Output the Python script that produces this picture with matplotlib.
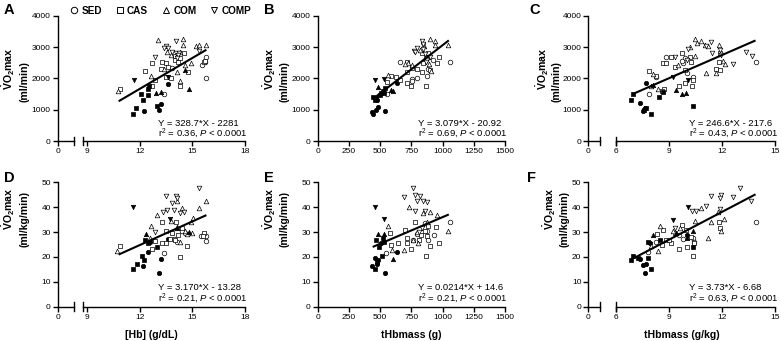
import matplotlib
matplotlib.use('Agg')
import matplotlib.pyplot as plt
from matplotlib.lines import Line2D

plt.rcParams['font.family'] = ['Liberation Sans', 'DejaVu Sans']
plt.rcParams['mathtext.fontset'] = 'custom'
plt.rcParams['mathtext.rm'] = 'Liberation Sans'
plt.rcParams['mathtext.it'] = 'Liberation Sans:italic'
plt.rcParams['mathtext.bf'] = 'Liberation Sans:bold'

# ---------------- DATA ----------------
groups = ['SED', 'CAS', 'COM', 'COMP']

# Panel A: [Hb] (g/dL) vs VO2max (ml/min)
a_sed_x = [15.8, 15.7, 15.55, 15.8, 13.4, 14.15, 13.85, 12.25, 13.1, 13.2, 13.6]
a_sed_y = [2670, 2520, 2430, 2000, 1490, 2610, 2330, 960, 990, 1180, 1820]
a_sed_f = [0, 0, 0, 0, 0, 0, 0, 1, 1, 1, 1]
a_cas_x = [10.9, 12.3, 12.7, 13.25, 13.5, 13.2, 13.6, 14.0, 14.0, 14.55, 14.3, 14.75, 14.3, 12.7, 13.5, 15.65, 15.7, 13.8, 14.2, 12.9,
           11.62, 11.8, 12.2, 12.1, 12.5, 12.5, 13.0, 12.55]
a_cas_y = [1660, 2250, 2480, 2510, 2500, 2300, 2350, 2600, 2710, 2800, 2650, 2210, 1760, 1760, 2050, 2510, 2560, 2000, 2520, 1950,
           860, 1040, 1310, 1500, 1650, 1470, 1120, 1740]
a_cas_f = [0] * 20 + [1] * 8
a_com_x = [13.05, 14.45, 14.45, 13.55, 15.2, 15.4, 15.75, 14.9, 14.6, 14.1, 12.65, 14.3, 10.75, 13.8, 14.3, 13.4,
           12.95, 13.2, 14.8, 14.6]
a_com_y = [3220, 3250, 3080, 2840, 3030, 3060, 3060, 2500, 2420, 2190, 2080, 1920, 1600, 2750, 2850, 2300,
           1520, 1550, 1660, 2270]
a_com_f = [0] * 16 + [1] * 4
a_comp_x = [13.5, 14.05, 13.4, 12.9, 13.85, 14.05, 14.25, 15.4, 13.6, 14.2, 14.1, 11.65, 13.6]
a_comp_y = [3040, 3190, 2960, 2690, 2830, 2800, 2800, 2880, 2960, 2750, 2650, 1950, 2030]
a_comp_f = [0] * 11 + [1] * 2

# Panel B: tHbmass (g) vs VO2max (ml/min)
b_sed_x = [1060, 926, 753, 793, 755, 873, 552, 659, 880, 432, 446, 465, 486, 478, 540, 633]
b_sed_y = [2530, 2585, 1980, 2000, 1915, 2075, 1500, 2530, 2300, 940, 850, 1000, 1100, 1300, 960, 1860]
b_sed_f = [0] * 9 + [1] * 7
b_cas_x = [587, 659, 713, 747, 867, 953, 972, 712, 712, 846, 865, 833, 880, 793, 753, 712, 833, 900, 627, 552,
           446, 470, 505, 520, 540, 500, 455, 530]
b_cas_y = [2075, 1950, 1840, 1755, 1755, 2500, 2690, 2480, 2530, 2480, 2670, 2800, 2800, 2290, 2320, 2210, 2210, 2265, 2050, 1890,
           1420, 1370, 1540, 1600, 1700, 1480, 1300, 1530]
b_cas_f = [0] * 20 + [1] * 8
b_com_x = [900, 940, 940, 1046, 854, 726, 753, 820, 907, 566, 873, 890, 700, 486, 600, 590]
b_com_y = [3245, 3200, 3064, 3064, 3030, 2500, 2425, 2900, 2245, 2100, 2690, 2450, 2450, 1713, 1606, 1620]
b_com_f = [0] * 13 + [1] * 3
b_comp_x = [833, 846, 774, 779, 793, 841, 859, 900, 873, 865, 846, 459, 531]
b_comp_y = [3200, 3064, 2883, 2850, 2957, 2925, 2777, 2690, 2585, 2530, 3100, 1947, 1980]
b_comp_f = [0] * 11 + [1] * 2

# Panel C: tHbmass (g/kg) vs VO2max (ml/min)
c_sed_x = [7.9, 8.3, 8.87, 9.8, 9.94, 10.37, 13.9, 10.0, 9.75, 7.37, 7.7, 7.65, 7.55]
c_sed_y = [1500, 2053, 2670, 2478, 2638, 2032, 2532, 2160, 2550, 1200, 1860, 1050, 960]
c_sed_f = [0] * 9 + [1] * 4
c_cas_x = [7.9, 8.27, 8.74, 8.68, 8.87, 9.15, 9.77, 10.18, 9.9, 10.28, 9.9, 9.6, 10.33, 10.37, 11.83, 11.68, 11.87, 11.87, 9.34, 8.6,
           6.86, 6.99, 7.6, 7.7, 7.97, 8.46, 8.68, 10.37]
c_cas_y = [2245, 2075, 1650, 2500, 2500, 2670, 2800, 2690, 2266, 2532, 1862, 1755, 1755, 1947, 2532, 2287, 2266, 2800, 2372, 1600,
           1310, 1500, 1000, 1040, 850, 1420, 1570, 1120]
c_cas_f = [0] * 20 + [1] * 8
c_com_x = [10.47, 10.84, 10.6, 11.03, 11.22, 11.83, 11.68, 11.12, 12.06, 12.2, 10.5, 9.53, 8.4, 8.12, 8.0, 10.18,
           8.08, 9.43, 9.77, 9.96]
c_com_y = [3245, 3202, 3138, 3064, 3032, 3064, 2160, 2180, 2564, 2457, 2713, 2425, 1650, 2138, 1755, 3000,
           1790, 1630, 1500, 1543]
c_com_f = [0] * 16 + [1] * 4
c_comp_x = [9.34, 10.1, 11.4, 11.46, 11.9, 11.96, 12.62, 13.37, 13.7, 11.08, 10.0, 9.25, 10.1]
c_comp_y = [2670, 2925, 3170, 2820, 2904, 2745, 2457, 2851, 2713, 3032, 2600, 2030, 1950]
c_comp_f = [0] * 11 + [1] * 2

# Panel D: [Hb] (g/dL) vs VO2max (ml/kg/min)
d_sed_x = [13.4, 13.95, 14.6, 15.5, 15.77, 15.77, 14.4, 14.1, 13.6, 12.5, 12.2, 13.2, 13.1, 12.6]
d_sed_y = [21.7, 27.2, 29.5, 28.6, 28.6, 26.4, 30.6, 26.0, 27.1, 22.1, 16.5, 19.3, 13.7, 26.0]
d_sed_f = [0] * 8 + [1] * 6
d_cas_x = [10.9, 12.72, 13.25, 13.25, 13.5, 13.5, 13.85, 14.07, 14.4, 14.7, 14.3, 15.64, 14.0, 12.9, 13.7, 14.2, 15.6,
           11.64, 11.83, 12.15, 12.25, 12.5, 13.0, 12.3]
d_cas_y = [24.4, 23.2, 33.9, 25.7, 25.5, 30.4, 29.5, 34.2, 31.5, 24.4, 20.1, 29.8, 26.8, 26.5, 27.3, 28.8, 28.5,
           15.0, 17.0, 20.4, 18.8, 25.7, 24.1, 27.0]
d_cas_f = [0] * 17 + [1] * 7
d_com_x = [10.68, 13.0, 12.62, 15.77, 15.36, 15.04, 14.4, 14.13, 14.3, 14.7, 14.98, 14.57, 14.13, 13.8, 12.6, 14.9,
           12.34, 14.8, 14.1]
d_com_y = [22.5, 36.9, 32.6, 42.5, 39.5, 35.5, 39.5, 42.6, 26.1, 29.1, 29.5, 30.6, 32.2, 34.5, 27.5, 34.0,
           29.1, 30.0, 31.8]
d_com_f = [0] * 16 + [1] * 3
d_comp_x = [13.5, 14.04, 15.4, 14.13, 13.98, 13.57, 13.3, 13.85, 12.9, 14.3, 14.5, 11.64, 13.75]
d_comp_y = [44.6, 44.5, 47.6, 43.6, 38.9, 38.9, 38.2, 41.8, 30.2, 37.5, 38.0, 40.2, 35.1]
d_comp_f = [0] * 11 + [1] * 2

# Panel E: tHbmass (g) vs VO2max (ml/kg/min)
e_sed_x = [1060, 931, 886, 793, 766, 547, 873, 860, 432, 459, 486, 472, 539, 633, 504]
e_sed_y = [34.2, 28.8, 26.8, 29.2, 26.8, 21.7, 30.5, 33.5, 16.5, 19.4, 18.8, 17.2, 13.7, 22.1, 25.5]
e_sed_f = [0] * 8 + [1] * 7
e_cas_x = [579, 587, 646, 712, 747, 779, 865, 972, 948, 881, 900, 873, 814, 713, 700, 830, 860,
           459, 467, 494, 512, 478, 531, 520]
e_cas_y = [29.5, 24.8, 25.5, 25.7, 23.1, 33.9, 20.4, 25.5, 31.9, 32.4, 24.4, 28.4, 26.8, 27.7, 31.0, 29.0, 30.5,
           15.0, 26.8, 24.1, 20.4, 18.1, 26.1, 27.5]
e_cas_f = [0] * 17 + [1] * 7
e_com_x = [566, 592, 734, 694, 793, 846, 953, 1046, 900, 873, 806, 760, 486, 531, 606]
e_com_y = [32.4, 22.8, 39.9, 22.8, 30.2, 37.5, 36.9, 30.4, 38.2, 34.2, 25.5, 27.0, 29.1, 29.1, 19.0]
e_com_f = [0] * 12 + [1] * 3
e_comp_x = [766, 691, 779, 819, 846, 873, 793, 859, 779, 833, 814, 459, 531]
e_comp_y = [47.6, 44.0, 44.9, 44.5, 42.5, 42.2, 42.6, 38.6, 38.6, 31.5, 30.2, 40.2, 35.1]
e_comp_f = [0] * 11 + [1] * 2

# Panel F: tHbmass (g/kg) vs VO2max (ml/kg/min)
f_sed_x = [7.84, 8.3, 9.8, 10.37, 13.9, 9.6, 10.4, 7.65, 7.56, 7.74, 7.93, 7.37, 10.0]
f_sed_y = [22.1, 26.1, 27.1, 27.5, 34.2, 28.8, 26.0, 13.7, 16.8, 17.2, 25.7, 19.0, 28.8]
f_sed_f = [0] * 7 + [1] * 6
f_cas_x = [8.31, 8.68, 8.87, 9.15, 9.34, 9.77, 9.58, 10.0, 10.37, 9.96, 10.28, 11.83, 11.87, 10.4, 8.6, 9.0,
           6.86, 6.99, 7.97, 7.84, 7.84, 8.5, 10.37, 7.28]
f_cas_y = [29.1, 30.8, 26.8, 25.7, 29.5, 32.8, 23.1, 24.1, 20.4, 30.8, 28.2, 34.2, 31.8, 25.7, 25.0, 27.0,
           18.8, 20.4, 15.0, 19.4, 26.1, 26.8, 23.9, 19.4]
f_cas_f = [0] * 16 + [1] * 8
f_com_x = [8.5, 8.4, 10.47, 10.84, 11.22, 11.37, 11.78, 12.1, 11.93, 9.25, 9.62, 8.0,
           8.08, 9.43, 10.0, 10.37]
f_com_y = [32.4, 22.5, 34.5, 39.5, 27.5, 34.2, 38.2, 35.1, 30.4, 30.4, 31.5, 24.5,
           28.8, 29.5, 27.5, 30.6]
f_com_f = [0] * 12 + [1] * 4
f_comp_x = [11.4, 11.96, 11.87, 12.62, 13.0, 13.65, 11.08, 10.33, 10.56, 11.87, 9.34, 9.25, 10.1]
f_comp_y = [44.5, 44.9, 43.6, 44.2, 47.6, 42.6, 40.5, 38.6, 38.6, 39.1, 31.5, 34.9, 40.2]
f_comp_f = [0] * 11 + [1] * 2

# Regression lines (slope, intercept, x-range)
reg_slope = [328.7, 3.079, 246.6, 3.170, 0.0214, 3.73]
reg_intercept = [-2281, -20.92, -217.6, -13.28, 14.6, -6.68]
reg_xrange = [(10.8, 15.8), (440, 1050), (7.0, 13.9), (10.8, 15.8), (440, 1050), (7.0, 13.9)]
eq_line1 = ['Y = 328.7*X - 2281', 'Y = 3.079*X - 20.92', 'Y = 246.6*X - 217.6',
            'Y = 3.170*X - 13.28', 'Y = 0.0214*X + 14.6', 'Y = 3.73*X - 6.68']
eq_r2 = ['0.36', '0.69', '0.43', '0.21', '0.21', '0.63']
panel_letters = ['A', 'B', 'C', 'D', 'E', 'F']
x_labels = ['', '', '', '[Hb] (g/dL)', 'tHbmass (g)', 'tHbmass (g/kg)']
y_units = ['(ml/min)', '(ml/min)', '(ml/min)', '(ml/kg/min)', '(ml/kg/min)', '(ml/kg/min)']

# ---------------- FIGURE ----------------
W, H = 781, 341
fig = plt.figure(figsize=(W / 100, H / 100), dpi=100)


def fx(px):
    return px / W


def fy(py):
    return 1 - py / H


LW = 1.0
TICK_FS = 6.0


def style(ax, left=True):
    for s in ['top', 'right']:
        ax.spines[s].set_visible(False)
    ax.spines['left'].set_visible(left)
    ax.spines['left'].set_linewidth(LW)
    ax.spines['bottom'].set_linewidth(LW)
    ax.tick_params(axis='both', direction='out', length=3.5, width=LW, labelsize=TICK_FS, pad=1.5)
    ax.patch.set_alpha(0)
    if not left:
        ax.tick_params(axis='y', left=False, labelleft=False)


markers = ['o', 's', '^', 'v']


def draw_points(ax, xs_list, ys_list, fs_list):
    for m, xs, ys, fs in zip(markers, xs_list, ys_list, fs_list):
        xo = [x for x, f in zip(xs, fs) if not f]
        yo = [y for y, f in zip(ys, fs) if not f]
        xf = [x for x, f in zip(xs, fs) if f]
        yf = [y for y, f in zip(ys, fs) if f]
        ax.scatter(xo, yo, s=11, marker=m, facecolors='white', edgecolors='black', linewidths=0.5, zorder=2,
                   clip_on=False)
        ax.scatter(xf, yf, s=10, marker=m, facecolors='black', edgecolors='black', linewidths=0.5, zorder=2,
                   clip_on=False)


def break_mark(ax, xpos):
    ax.plot([xpos, xpos], [-0.035, 0.035], transform=ax.transAxes, color='black', lw=LW, clip_on=False)


def make_panel(i, left, right, top, bot, ymax, ystep, data, broken):
    yticks = list(range(0, ymax + 1, ystep))
    if broken is None:
        ax = fig.add_axes([fx(left), fy(bot), (right - left) / W, (bot - top) / H])
        style(ax)
        ax.set_xlim(0, 1500)
        ax.set_xticks([0, 250, 500, 750, 1000, 1250, 1500])
        ax.set_ylim(0, ymax)
        ax.set_yticks(yticks)
        main = ax
    else:
        brk_end, main_start, v_lo, px_lo, v_hi, ticks = broken
        scale = (right - px_lo) / (v_hi - v_lo)
        ax0 = fig.add_axes([fx(left), fy(bot), (brk_end - left) / W, (bot - top) / H])
        style(ax0)
        ax0.set_xlim(0, (brk_end - left) / scale)
        ax0.set_xticks([0])
        ax0.set_ylim(0, ymax)
        ax0.set_yticks(yticks)
        break_mark(ax0, 1.0)
        main = fig.add_axes([fx(main_start), fy(bot), (right - main_start) / W, (bot - top) / H])
        style(main, left=False)
        main.set_xlim(v_hi - (right - main_start) / scale, v_hi)
        main.set_xticks(ticks)
        main.set_ylim(0, ymax)
        break_mark(main, 0.0)
    draw_points(main, *data)
    x0, x1 = reg_xrange[i]
    main.plot([x0, x1], [reg_slope[i] * x0 + reg_intercept[i], reg_slope[i] * x1 + reg_intercept[i]],
              color='black', lw=1.5, zorder=3, solid_capstyle='butt')
    return main


row_top = [(15.7, 141.0), (182.3, 306.7)]
col_geom = [
    (57.7, 245.0, (74.0, 83.0, 12, 139.7, 18, [9, 12, 15, 18])),
    (317.7, 505.0, None),
    (588.3, 775.0, (600.0, 615.7, 6, 615.7, 15, [6, 9, 12, 15])),
]
ylab1_x = [8.5, 270, 543, 8.5, 270, 550]
ylab2_x = [25, 285, 557, 25, 285, 565]
ylab_y = [(69, 82), (209, 219)]
eq_x = [158, 418, 689]
eq_y = [(123, 133.5), (288, 298.5)]
letter_pos = [(9, 10), (269, 10), (535, 10), (9, 178), (269, 178), (531, 178)]

all_data = [
    ([a_sed_x, a_cas_x, a_com_x, a_comp_x], [a_sed_y, a_cas_y, a_com_y, a_comp_y], [a_sed_f, a_cas_f, a_com_f, a_comp_f]),
    ([b_sed_x, b_cas_x, b_com_x, b_comp_x], [b_sed_y, b_cas_y, b_com_y, b_comp_y], [b_sed_f, b_cas_f, b_com_f, b_comp_f]),
    ([c_sed_x, c_cas_x, c_com_x, c_comp_x], [c_sed_y, c_cas_y, c_com_y, c_comp_y], [c_sed_f, c_cas_f, c_com_f, c_comp_f]),
    ([d_sed_x, d_cas_x, d_com_x, d_comp_x], [d_sed_y, d_cas_y, d_com_y, d_comp_y], [d_sed_f, d_cas_f, d_com_f, d_comp_f]),
    ([e_sed_x, e_cas_x, e_com_x, e_comp_x], [e_sed_y, e_cas_y, e_com_y, e_comp_y], [e_sed_f, e_cas_f, e_com_f, e_comp_f]),
    ([f_sed_x, f_cas_x, f_com_x, f_comp_x], [f_sed_y, f_cas_y, f_com_y, f_comp_y], [f_sed_f, f_cas_f, f_com_f, f_comp_f]),
]

for i in range(6):
    r, c = divmod(i, 3)
    top, bot = row_top[r]
    left, right, broken = col_geom[c]
    ymax, ystep = (4000, 1000) if r == 0 else (50, 10)
    make_panel(i, left, right, top, bot, ymax, ystep, all_data[i], broken)
    # y labels
    fig.text(fx(ylab1_x[i]), fy(ylab_y[r][0]), r'$\mathbf{\dot{V}O_2max}$', rotation=90,
             ha='center', va='center', fontsize=7.6, fontweight='bold')
    fig.text(fx(ylab2_x[i]), fy(ylab_y[r][1]), y_units[i], rotation=90,
             ha='center', va='center', fontsize=7.6, fontweight='bold')
    # equation
    fig.text(fx(eq_x[c]), fy(eq_y[r][0]), eq_line1[i], ha='left', va='center', fontsize=6.8)
    fig.text(fx(eq_x[c]), fy(eq_y[r][1]), r'r$^2$ = ' + eq_r2[i] + r', $\mathit{P}$ < 0.0001',
             ha='left', va='center', fontsize=6.8)
    # panel letter
    fig.text(fx(letter_pos[i][0]), fy(letter_pos[i][1]), panel_letters[i], ha='center', va='center',
             fontsize=10.5, fontweight='bold')
    # x label
    if x_labels[i]:
        fig.text(fx((left + right) / 2), fy(335), x_labels[i], ha='center', va='center',
                 fontsize=7.6, fontweight='bold')

# legend
handles = [Line2D([], [], marker=m, linestyle='none', markerfacecolor='white', markeredgecolor='black',
                  markersize=4.6, markeredgewidth=0.7) for m in ['o', 's', '^', 'v']]
fig.legend(handles, groups, loc='center', bbox_to_anchor=(fx(160), fy(10.5)), ncol=4, frameon=False,
           prop={'weight': 'bold', 'size': 7.2}, handletextpad=0.25, columnspacing=1.25, handlelength=1.0,
           borderpad=0, borderaxespad=0)

fig.savefig('out.png', dpi=100)
